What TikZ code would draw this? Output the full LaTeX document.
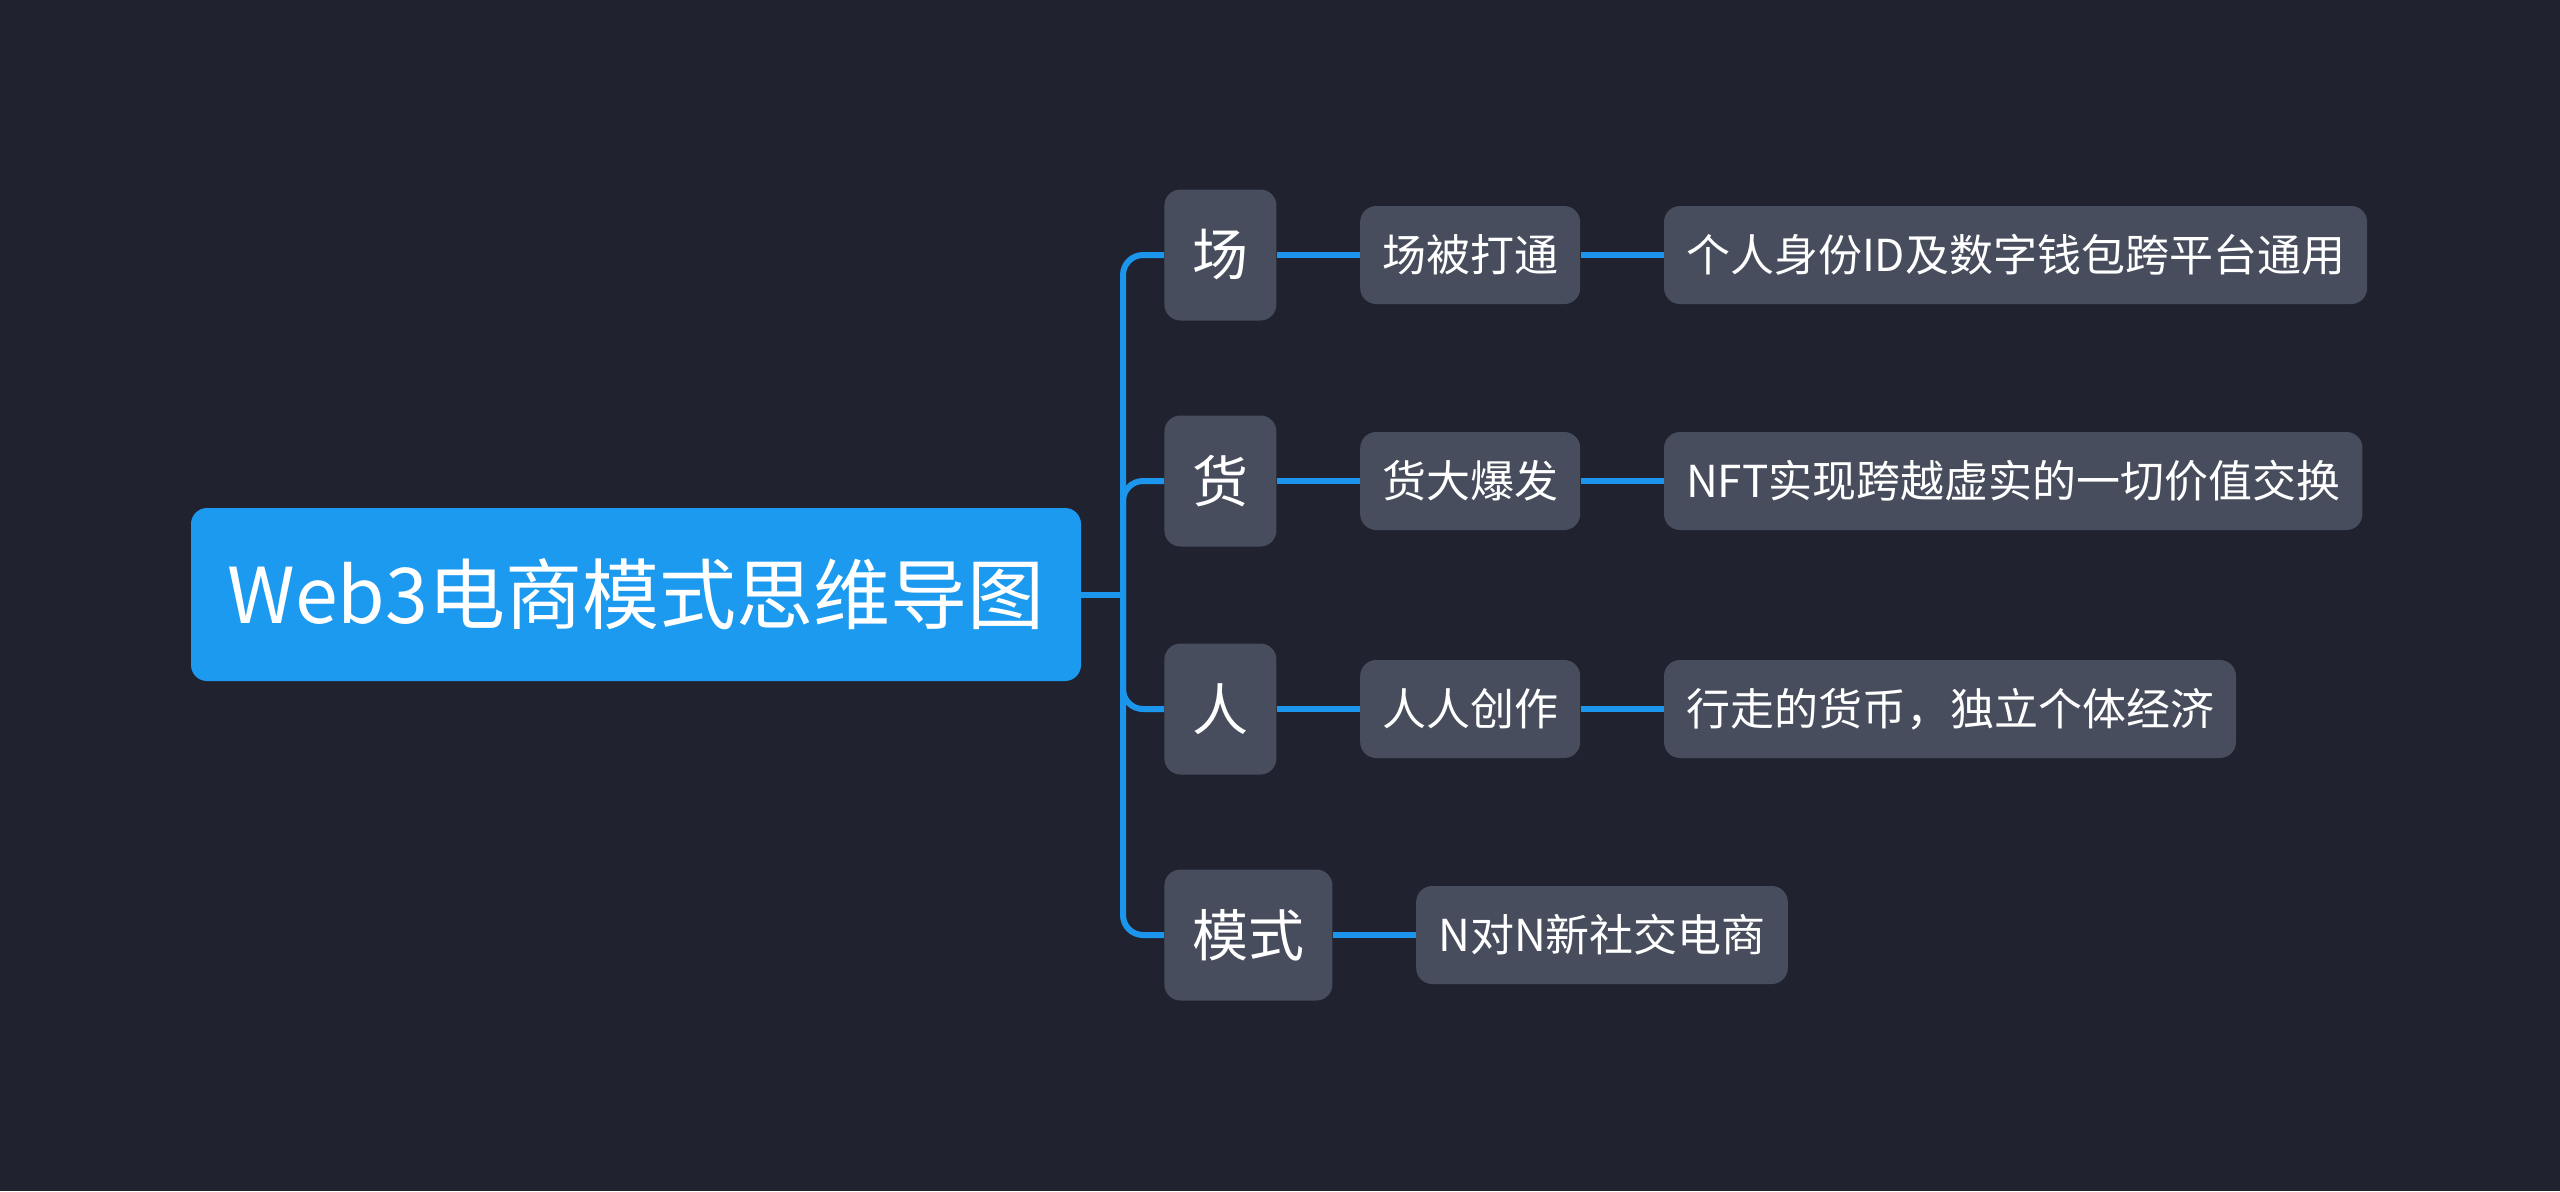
\documentclass[tikz,border=0pt]{standalone}
\usepackage{fontspec}
\setmainfont{Noto Sans CJK SC}
\usetikzlibrary{positioning}
\definecolor{bgdark}{HTML}{20232F}
\definecolor{boxgray}{HTML}{474D5C}
\definecolor{rootblue}{HTML}{1B9AF0}
\definecolor{linkblue}{HTML}{1B96EC}
\tikzset{
    base/.style={rectangle, rounded corners=8pt, text=white, align=center, inner ysep=0pt},
    root/.style={base, fill=rootblue, font=\fontsize{38.5}{40}\selectfont, minimum height=86.5pt, minimum width=445pt},
    topic/.style={base, fill=boxgray, font=\fontsize{28}{30}\selectfont, minimum height=65.5pt, inner xsep=14pt},
    leaf/.style={base, fill=boxgray, font=\fontsize{22}{24}\selectfont, minimum height=49pt, inner xsep=11pt},
    link/.style={draw=linkblue, line width=3pt}
}

\begin{document}
\begin{tikzpicture}[x=0.5pt, y=-0.5pt, node distance=41.5pt]
    \fill[bgdark] (0,0) rectangle (2560,1191);
    \useasboundingbox (0,0) rectangle (2560,1191);

    \node (root) [root] at (636,594.5) {Web3电商模式思维导图};
    \coordinate (fork) at (1123,594.5);

    \node (chang) [topic, anchor=west] at (1164,255) {场};
    \node (huo) [topic, anchor=west] at (1164,481) {货};
    \node (ren) [topic, anchor=west] at (1164,709) {人};
    \node (moshi) [topic, anchor=west] at (1164,935) {模式};

    \node (changA) [leaf, right=of chang] {场被打通};
    \node (changB) [leaf, right=of changA] {个人身份ID及数字钱包跨平台通用};
    \node (huoA) [leaf, right=of huo] {货大爆发};
    \node (huoB) [leaf, right=of huoA] {NFT实现跨越虚实的一切价值交换};
    \node (renA) [leaf, right=of ren] {人人创作};
    \node (renB) [leaf, right=of renA] {行走的货币，独立个体经济};
    \node (moshiA) [leaf, right=of moshi] {N对N新社交电商};

    \draw [link] (root.east) -- (fork);
    \draw [link, rounded corners=10pt] (fork) |- (chang.west);
    \draw [link, rounded corners=10pt] (fork) |- (huo.west);
    \draw [link, rounded corners=10pt] (fork) |- (ren.west);
    \draw [link, rounded corners=10pt] (fork) |- (moshi.west);

    \draw [link] (chang) -- (changA);
    \draw [link] (changA) -- (changB);
    \draw [link] (huo) -- (huoA);
    \draw [link] (huoA) -- (huoB);
    \draw [link] (ren) -- (renA);
    \draw [link] (renA) -- (renB);
    \draw [link] (moshi) -- (moshiA);
\end{tikzpicture}
\end{document}
